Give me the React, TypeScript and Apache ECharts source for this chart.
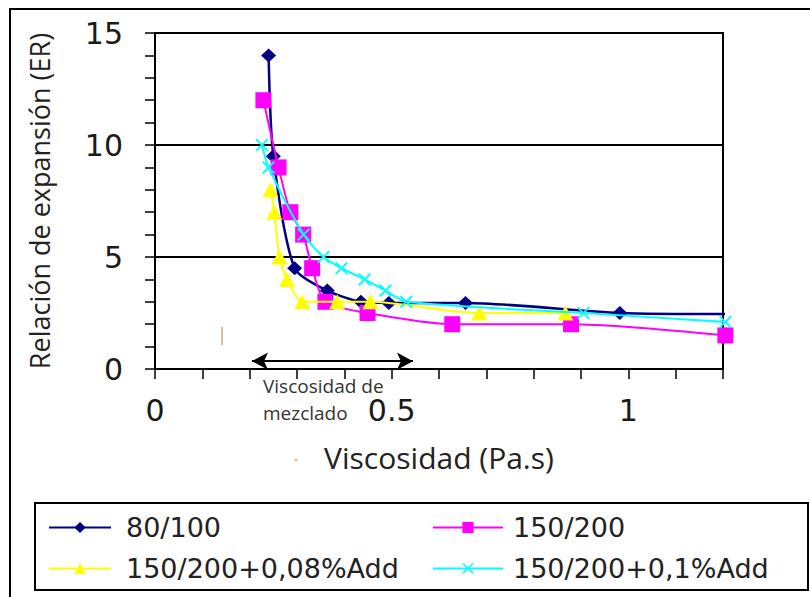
import React, { useEffect, useRef } from "react";
import * as echarts from "echarts";

// ---- Data ----
const seriesNames = ["80/100", "150/200", "150/200+0,08%Add", "150/200+0,1%Add"];

const s80_100: [number, number][] = [
  [0.24, 14], [0.25, 9.5], [0.295, 4.5], [0.364, 3.5], [0.435, 3.0],
  [0.494, 2.95], [0.656, 2.95], [0.982, 2.5], [1.23, 2.45],
];
const s150_200: [number, number][] = [
  [0.229, 12], [0.261, 9], [0.286, 7], [0.313, 6], [0.332, 4.5],
  [0.36, 3.0], [0.449, 2.5], [0.628, 2.0], [0.879, 2.0], [1.205, 1.5],
];
const s150_200_008: [number, number][] = [
  [0.244, 8], [0.252, 7], [0.263, 5], [0.279, 4], [0.311, 3],
  [0.385, 3], [0.455, 3], [0.685, 2.5], [0.867, 2.5],
];
const s150_200_01: [number, number][] = [
  [0.226, 10], [0.24, 9], [0.314, 6], [0.356, 5], [0.394, 4.5],
  [0.443, 4], [0.487, 3.5], [0.531, 3], [0.905, 2.5], [1.205, 2.1],
];

const xLabeledTicks = [0, 0.5, 1];
const xTickLabels = ["0", "0.5", "1"];

// double arrow "Viscosidad de mezclado" range (data coords)
const arrowStart: [number, number] = [0.205, 0.35];
const arrowEnd: [number, number] = [0.545, 0.35];

const colors = ["#000080", "#FF00FF", "#FFFF00", "#00FFFF"];

const xSymbol =
  "path://M0,1 L1,0 L5,4 L9,0 L10,1 L6,5 L10,9 L9,10 L5,6 L1,10 L0,9 L4,5 Z";

export default function App() {
  const ref = useRef<HTMLDivElement>(null);

  useEffect(() => {
    if (!ref.current) return;
    const chart = echarts.init(ref.current, undefined, { renderer: "svg" });

    const lineBase = (name: string, data: [number, number][], idx: number, w: number) => ({
      name,
      type: "line",
      data,
      smooth: 0.25,
      clip: false,
      color: colors[idx],
      lineStyle: { color: colors[idx], width: w },
      itemStyle: { color: colors[idx] },
      z: 2 + idx,
    });

    const option: any = {
      animation: false,
      backgroundColor: "#ffffff",
      grid: {
        left: 155,
        right: 87,
        top: 33,
        bottom: 228,
        show: true,
        borderColor: "#000",
        borderWidth: 2,
        backgroundColor: "transparent",
      },
      xAxis: {
        type: "value",
        min: 0,
        max: 1.2,
        interval: 0.1,
        name: "Viscosidad (Pa.s)",
        nameLocation: "middle",
        nameGap: 73,
        nameTextStyle: { fontFamily: "Open Sans", fontSize: 30, color: "#222" },
        axisLine: { show: true, lineStyle: { color: "#000", width: 2 } },
        axisTick: { show: true, length: 10, lineStyle: { color: "#000", width: 1.5 } },
        splitLine: { show: false },
        axisLabel: {
          margin: 26,
          fontFamily: "DejaVu Sans",
          fontSize: 30,
          color: "#1a1a1a",
          showMaxLabel: true,
          formatter: (v: number) => {
            const i = xLabeledTicks.findIndex((t) => Math.abs(t - v) < 1e-6);
            return i >= 0 ? xTickLabels[i] : "";
          },
        },
      },
      yAxis: {
        type: "value",
        min: 0,
        max: 15,
        interval: 5,
        name: "Relación de expansión (ER)",
        nameLocation: "middle",
        nameGap: 102,
        nameTextStyle: { fontFamily: "Open Sans", fontSize: 27, color: "#222" },
        axisLine: { show: true, lineStyle: { color: "#000", width: 2 } },
        axisTick: { show: true, length: 10, lineStyle: { color: "#000", width: 1.5 } },
        minorTick: { show: true, splitNumber: 5, length: 10, lineStyle: { color: "#000", width: 1.5 } },
        splitLine: { show: true, lineStyle: { color: "#000", width: 2 } },
        axisLabel: {
          margin: 32,
          fontFamily: "DejaVu Sans",
          fontSize: 30,
          color: "#1a1a1a",
        },
      },
      legend: [
        {
          data: [seriesNames[0], seriesNames[2]],
          orient: "vertical",
          left: 48,
          top: 514,
          padding: 0,
          itemWidth: 62,
          itemHeight: 14,
          itemGap: 14,
          textStyle: { fontFamily: "DejaVu Sans", fontSize: 27, color: "#222", padding: [0, 0, 0, 10] },
        },
        {
          data: [seriesNames[1], seriesNames[3]],
          orient: "vertical",
          left: 432,
          top: 514,
          padding: 0,
          itemWidth: 70,
          itemHeight: 14,
          itemGap: 14,
          textStyle: { fontFamily: "DejaVu Sans", fontSize: 27, color: "#222", padding: [0, 0, 0, 5] },
        },
      ],
      series: [
        {
          ...lineBase(seriesNames[0], s80_100, 0, 2.5),
          symbol: "diamond",
          symbolSize: [15, 14],
          data: s80_100.map((p, i) =>
            i === s80_100.length - 1 ? { value: p, symbol: "none" } : p
          ),
          markLine: {
            silent: true,
            symbol: ["arrow", "arrow"],
            symbolSize: [13, 16],
            lineStyle: { color: "#000", width: 2, type: "solid" },
            label: { show: false },
            data: [[{ coord: arrowStart }, { coord: arrowEnd }]],
          },
        },
        { ...lineBase(seriesNames[1], s150_200, 1, 2), symbol: "rect", symbolSize: 16 },
        { ...lineBase(seriesNames[2], s150_200_008, 2, 2), symbol: "triangle", symbolSize: [16, 15] },
        { ...lineBase(seriesNames[3], s150_200_01, 3, 2), symbol: xSymbol, symbolSize: 13 },
      ],
      graphic: [
        {
          type: "rect",
          shape: { x: 10, y: 9, width: 830, height: 620 },
          style: { fill: "none", stroke: "#000", lineWidth: 2 },
          silent: true,
          z: -1,
        },
        {
          type: "rect",
          shape: { x: 35, y: 503, width: 773, height: 87 },
          style: { fill: "none", stroke: "#000", lineWidth: 2 },
          silent: true,
        },
        {
          type: "text",
          left: 263,
          top: 372,
          style: {
            text: "Viscosidad de\nmezclado",
            fontFamily: "Open Sans",
            fontSize: 19,
            lineHeight: 27,
            fill: "#333",
          },
        },
        {
          type: "line",
          shape: { x1: 222, y1: 327, x2: 222, y2: 345 },
          style: { stroke: "#d2ad78", lineWidth: 1.5 },
          silent: true,
        },
        {
          type: "circle",
          shape: { cx: 296, cy: 460, r: 1.5 },
          style: { fill: "#f3b58a" },
          silent: true,
        },
      ],
    };

    chart.setOption(option);
    return () => chart.dispose();
  }, []);

  return (
    <div
      ref={ref}
      style={{ position: "fixed", left: 0, top: 0, width: 810, height: 597 }}
    />
  );
}
